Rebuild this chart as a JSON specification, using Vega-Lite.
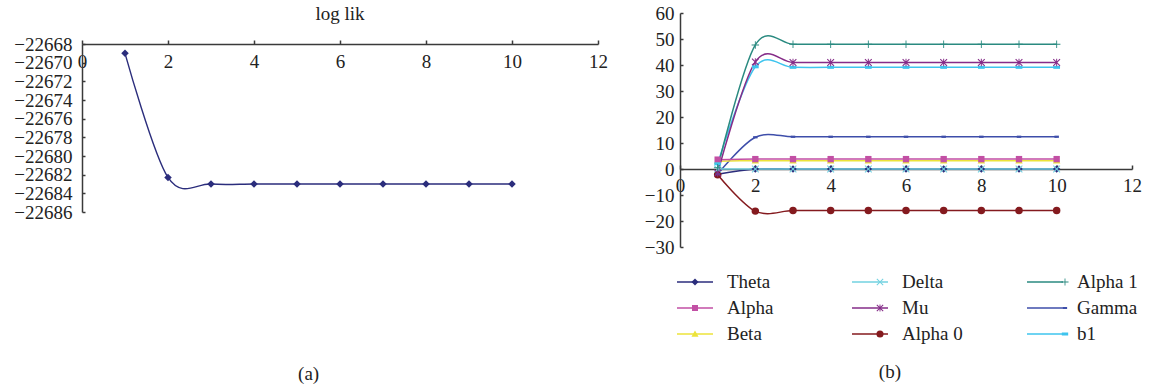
{
  "$schema": "https://vega.github.io/schema/vega-lite/v6.json",
  "padding": {"left": 13, "top": 4, "right": 14, "bottom": 0},
  "spacing": 36,
  "config": {
    "font": "Liberation Serif",
    "view": {"stroke": null},
    "axis": {
      "labelFont": "Liberation Serif", "labelFontSize": 19, "labelColor": "#222222",
      "domainColor": "#3a3a3a", "tickColor": "#3a3a3a", "domainWidth": 1.5, "tickWidth": 1.5,
      "grid": false, "title": null, "labelFlush": false, "labelOverlap": false
    },
    "title": {"font": "Liberation Serif", "fontSize": 19, "fontWeight": "normal", "color": "#222222"}
  },
  "hconcat": [
    {
      "title": {"text": "(a)", "orient": "bottom", "anchor": "middle", "offset": 143, "dx": -2},
      "spacing": 11,
      "vconcat": [
        {
          "width": 516, "height": 1,
          "title": {"text": "log lik", "orient": "bottom", "anchor": "middle", "offset": -9},
          "data": {"values": []},
          "mark": "point"
        },
        {
          "width": 516, "height": 168,
          "data": {"values": [
            {"x": 1, "v": -22669.0}, {"x": 2, "v": -22682.3}, {"x": 3, "v": -22683.0},
            {"x": 4, "v": -22683.0}, {"x": 5, "v": -22683.0}, {"x": 6, "v": -22683.0},
            {"x": 7, "v": -22683.0}, {"x": 8, "v": -22683.0}, {"x": 9, "v": -22683.0},
            {"x": 10, "v": -22683.0}
          ]},
          "encoding": {
            "x": {"field": "x", "type": "quantitative", "scale": {"domain": [0, 12], "nice": false},
              "axis": {"orient": "bottom", "offset": -168, "values": [0, 2, 4, 6, 8, 10, 12], "tickSize": -4, "labelPadding": 12}},
            "y": {"field": "v", "type": "quantitative", "scale": {"domain": [-22686, -22668], "nice": false, "zero": false},
              "axis": {"values": [-22686, -22684, -22682, -22680, -22678, -22676, -22674, -22672, -22670, -22668], "format": "d", "labelExpr": "replace(datum.label, '-', '\u2212')", "tickSize": -3, "labelPadding": 13}}
          },
          "layer": [
            {"mark": {"type": "line", "interpolate": "cardinal", "color": "#2b2d7c", "strokeWidth": 1.4}},
            {"mark": {"type": "point", "filled": true, "opacity": 1, "color": "#2b2d7c", "size": 56, "shape": "M-1,0L0,-1L1,0L0,1Z"}}
          ]
        }
      ]
    },
    {
      "title": {"text": "(b)", "orient": "bottom", "anchor": "middle", "offset": 106, "dx": -3},
      "vconcat": [
        {
          "width": 452, "height": 234,
          "data": {"values": [
            {"x": 1, "series": "Theta", "v": -2.0}, {"x": 2, "series": "Theta", "v": 0}, {"x": 3, "series": "Theta", "v": 0}, {"x": 4, "series": "Theta", "v": 0}, {"x": 5, "series": "Theta", "v": 0}, {"x": 6, "series": "Theta", "v": 0}, {"x": 7, "series": "Theta", "v": 0}, {"x": 8, "series": "Theta", "v": 0}, {"x": 9, "series": "Theta", "v": 0}, {"x": 10, "series": "Theta", "v": 0},
            {"x": 1, "series": "Alpha 0", "v": -2.2}, {"x": 2, "series": "Alpha 0", "v": -16.2}, {"x": 3, "series": "Alpha 0", "v": -16.0}, {"x": 4, "series": "Alpha 0", "v": -16.0}, {"x": 5, "series": "Alpha 0", "v": -16.0}, {"x": 6, "series": "Alpha 0", "v": -16.0}, {"x": 7, "series": "Alpha 0", "v": -16.0}, {"x": 8, "series": "Alpha 0", "v": -16.0}, {"x": 9, "series": "Alpha 0", "v": -16.0}, {"x": 10, "series": "Alpha 0", "v": -16.0},
            {"x": 1, "series": "Gamma", "v": -2.0}, {"x": 2, "series": "Gamma", "v": 12.2}, {"x": 3, "series": "Gamma", "v": 12.4}, {"x": 4, "series": "Gamma", "v": 12.4}, {"x": 5, "series": "Gamma", "v": 12.4}, {"x": 6, "series": "Gamma", "v": 12.4}, {"x": 7, "series": "Gamma", "v": 12.4}, {"x": 8, "series": "Gamma", "v": 12.4}, {"x": 9, "series": "Gamma", "v": 12.4}, {"x": 10, "series": "Gamma", "v": 12.4},
            {"x": 1, "series": "Delta", "v": 0}, {"x": 2, "series": "Delta", "v": 0}, {"x": 3, "series": "Delta", "v": 0}, {"x": 4, "series": "Delta", "v": 0}, {"x": 5, "series": "Delta", "v": 0}, {"x": 6, "series": "Delta", "v": 0}, {"x": 7, "series": "Delta", "v": 0}, {"x": 8, "series": "Delta", "v": 0}, {"x": 9, "series": "Delta", "v": 0}, {"x": 10, "series": "Delta", "v": 0},
            {"x": 1, "series": "Beta", "v": 3.0}, {"x": 2, "series": "Beta", "v": 3.2}, {"x": 3, "series": "Beta", "v": 3.2}, {"x": 4, "series": "Beta", "v": 3.2}, {"x": 5, "series": "Beta", "v": 3.2}, {"x": 6, "series": "Beta", "v": 3.2}, {"x": 7, "series": "Beta", "v": 3.2}, {"x": 8, "series": "Beta", "v": 3.2}, {"x": 9, "series": "Beta", "v": 3.2}, {"x": 10, "series": "Beta", "v": 3.2},
            {"x": 1, "series": "Alpha", "v": 3.6}, {"x": 2, "series": "Alpha", "v": 3.8}, {"x": 3, "series": "Alpha", "v": 3.8}, {"x": 4, "series": "Alpha", "v": 3.8}, {"x": 5, "series": "Alpha", "v": 3.8}, {"x": 6, "series": "Alpha", "v": 3.8}, {"x": 7, "series": "Alpha", "v": 3.8}, {"x": 8, "series": "Alpha", "v": 3.8}, {"x": 9, "series": "Alpha", "v": 3.8}, {"x": 10, "series": "Alpha", "v": 3.8},
            {"x": 1, "series": "b1", "v": 2.0}, {"x": 2, "series": "b1", "v": 39.3}, {"x": 3, "series": "b1", "v": 39.1}, {"x": 4, "series": "b1", "v": 39.1}, {"x": 5, "series": "b1", "v": 39.1}, {"x": 6, "series": "b1", "v": 39.1}, {"x": 7, "series": "b1", "v": 39.1}, {"x": 8, "series": "b1", "v": 39.1}, {"x": 9, "series": "b1", "v": 39.1}, {"x": 10, "series": "b1", "v": 39.1},
            {"x": 1, "series": "Mu", "v": -1.5}, {"x": 2, "series": "Mu", "v": 41.2}, {"x": 3, "series": "Mu", "v": 41.0}, {"x": 4, "series": "Mu", "v": 41.0}, {"x": 5, "series": "Mu", "v": 41.0}, {"x": 6, "series": "Mu", "v": 41.0}, {"x": 7, "series": "Mu", "v": 41.0}, {"x": 8, "series": "Mu", "v": 41.0}, {"x": 9, "series": "Mu", "v": 41.0}, {"x": 10, "series": "Mu", "v": 41.0},
            {"x": 1, "series": "Alpha 1", "v": 0.5}, {"x": 2, "series": "Alpha 1", "v": 47.7}, {"x": 3, "series": "Alpha 1", "v": 48.0}, {"x": 4, "series": "Alpha 1", "v": 48.0}, {"x": 5, "series": "Alpha 1", "v": 48.0}, {"x": 6, "series": "Alpha 1", "v": 48.0}, {"x": 7, "series": "Alpha 1", "v": 48.0}, {"x": 8, "series": "Alpha 1", "v": 48.0}, {"x": 9, "series": "Alpha 1", "v": 48.0}, {"x": 10, "series": "Alpha 1", "v": 48.0}
          ]},
          "encoding": {
            "x": {"field": "x", "type": "quantitative", "scale": {"domain": [0, 12], "nice": false},
              "axis": {"orient": "bottom", "offset": -78, "values": [0, 2, 4, 6, 8, 10, 12], "tickSize": -4, "labelPadding": 11}},
            "y": {"field": "v", "type": "quantitative", "scale": {"domain": [-30, 60], "nice": false},
              "axis": {"values": [-30, -20, -10, 0, 10, 20, 30, 40, 50, 60], "labelExpr": "replace(datum.label, '-', '\u2212')", "tickSize": -3, "labelPadding": 9}}
          },
          "layer": [
            {
              "mark": {"type": "line", "interpolate": "cardinal", "strokeWidth": 1.5},
              "encoding": {
                "stroke": {"field": "series", "type": "nominal",
                  "sort": ["Theta", "Alpha", "Beta", "Delta", "Mu", "Alpha 0", "Alpha 1", "Gamma", "b1"],
                  "scale": {"range": ["#2b2d7c", "#c24fa4", "#ece33a", "#72d2e0", "#852c88", "#841a1e", "#2a8a80", "#3e4eaa", "#3ec4ee"]},
                  "legend": {"orient": "none", "legendX": 594, "legendY": 260, "columns": 3, "title": null, "padding": 0,
                    "symbolType": "stroke", "symbolSize": 1296, "symbolStrokeWidth": 1.5, "clipHeight": 18,
                    "labelOffset": 13, "labelFont": "Liberation Serif", "labelFontSize": 19, "labelColor": "#222222",
                    "gridAlign": "all", "columnPadding": 63, "rowPadding": 7}}
              }
            },
            {
              "mark": {"type": "point", "filled": true, "opacity": 1, "size": 56},
              "encoding": {
                "color": {"field": "series", "type": "nominal",
                  "scale": {"domain": ["Theta", "Alpha", "Beta", "Delta", "Mu", "Alpha 0", "Alpha 1", "Gamma", "b1"],
                            "range": ["#2b2d7c", "#c24fa4", "#ece33a", "#72d2e0", "#852c88", "#841a1e", "#2a8a80", "#3e4eaa", "#3ec4ee"]},
                  "legend": {"orient": "none", "legendX": 594, "legendY": 260, "columns": 3, "title": null, "padding": 0,
                    "symbolSize": 50, "symbolStrokeWidth": 0, "symbolOffset": 9.5, "clipHeight": 18,
                    "labelOffset": 32, "labelFont": "Liberation Serif", "labelFontSize": 19, "labelOpacity": 0,
                    "gridAlign": "all", "columnPadding": 63, "rowPadding": 7}},
                "shape": {"field": "series", "type": "nominal",
                  "scale": {"domain": ["Theta", "Alpha", "Beta", "Delta", "Mu", "Alpha 0", "Alpha 1", "Gamma", "b1"],
                    "range": [
                    "M-1,0L0,-1L1,0L0,1Z",
                    "M-0.85,-0.85H0.85V0.85H-0.85Z",
                    "M0,-1L1,0.75H-1Z",
                    "M-1,-0.8L-0.8,-1L0,-0.2L0.8,-1L1,-0.8L0.2,0L1,0.8L0.8,1L0,0.2L-0.8,1L-1,0.8L-0.2,0Z",
                    "M-1,-0.8L-0.8,-1L0,-0.2L0.8,-1L1,-0.8L0.2,0L1,0.8L0.8,1L0,0.2L-0.8,1L-1,0.8L-0.2,0Z M-0.13,-1H0.13V1H-0.13Z",
                    "circle",
                    "M-1,-0.12H-0.12V-1H0.12V-0.12H1V0.12H0.12V1H-0.12V0.12H-1Z",
                    "M-0.6,-0.3H0.6V0.3H-0.6Z",
                    "M-0.9,-0.4H0.9V0.4H-0.9Z"
                  ]},
                  "legend": {"orient": "none", "legendX": 594, "legendY": 260, "columns": 3, "title": null, "padding": 0,
                    "symbolSize": 50, "symbolStrokeWidth": 0, "symbolOffset": 9.5, "clipHeight": 18,
                    "labelOffset": 32, "labelFont": "Liberation Serif", "labelFontSize": 19, "labelOpacity": 0,
                    "gridAlign": "all", "columnPadding": 63, "rowPadding": 7}}
              }
            }
          ]
        }
      ]
    }
  ]
}
